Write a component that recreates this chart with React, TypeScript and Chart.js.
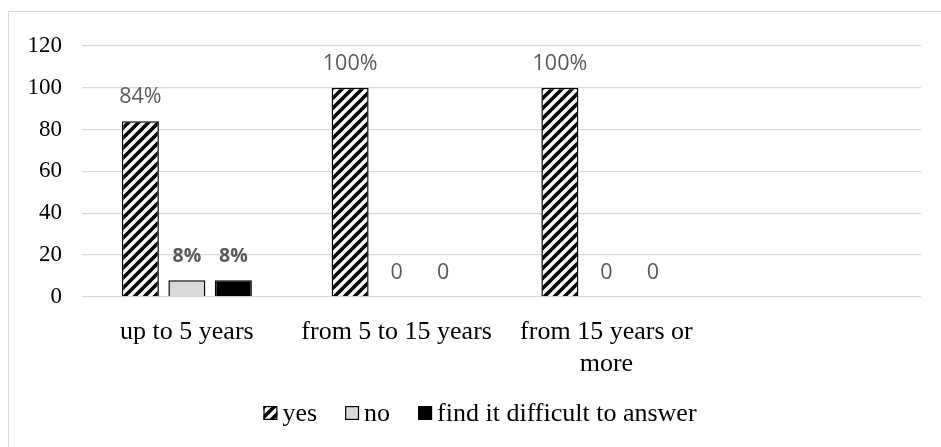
import React, { useEffect, useRef } from "react";
import { Chart, registerables } from "chart.js";

Chart.register(...registerables);

// Categories along the x axis (the last slot is left empty on purpose)
const categories: (string | string[])[] = [
  "up to 5 years",
  "from 5 to 15 years",
  ["from 15 years or", "more"],
  "",
];

// Series values, in percent
const yesValues = [84, 100, 100];
const noValues = [8, 0, 0];
const difficultValues = [8, 0, 0];

const seriesNames = ["yes", "no", "find it difficult to answer"];

// Value axis
const yMin = 0;
const yMax = 120;
const yStep = 20;

const SERIF = "'Liberation Serif', 'Times New Roman', serif";
const SANS = "'Open Sans', 'Liberation Sans', sans-serif";

function makeHatch(): CanvasPattern | string {
  const size = 10;
  const c = document.createElement("canvas");
  c.width = size;
  c.height = size;
  const g = c.getContext("2d");
  if (!g) return "#000";
  g.fillStyle = "#ffffff";
  g.fillRect(0, 0, size, size);
  g.strokeStyle = "#000000";
  g.lineWidth = 3.6;
  g.lineCap = "square";
  g.beginPath();
  g.moveTo(-size, size * 2);
  g.lineTo(size * 2, -size);
  g.moveTo(-size, size);
  g.lineTo(size, -size);
  g.moveTo(0, size * 2);
  g.lineTo(size * 2, 0);
  g.stroke();
  const p = g.createPattern(c, "repeat");
  return p || "#000";
}

// Value labels above each bar
const valueLabels = {
  id: "valueLabels",
  afterDatasetsDraw(chart: any) {
    const ctx = chart.ctx as CanvasRenderingContext2D;
    ctx.save();
    ctx.textAlign = "center";
    ctx.textBaseline = "middle";
    ctx.fillStyle = "#595959";
    chart.data.datasets.forEach((ds: any, di: number) => {
      const meta = chart.getDatasetMeta(di);
      meta.data.forEach((bar: any, i: number) => {
        const v = ds.data[i];
        if (v === undefined || v === null) return;
        const text = v === 0 ? "0" : `${v}%`;
        const bold = di > 0 && v > 0;
        ctx.font = bold ? `bold 19.5px ${SANS}` : `21.5px ${SANS}`;
        ctx.fillText(text, bar.x, bar.y - 24);
      });
    });
    ctx.restore();
  },
};

// Legend row under the axis
const bottomLegend = {
  id: "bottomLegend",
  afterDraw(chart: any) {
    const ctx = chart.ctx as CanvasRenderingContext2D;
    const box = 14;
    const gapText = 5;
    const gapItem = 28;
    const cy = 401;
    ctx.save();
    ctx.font = `26px ${SERIF}`;
    ctx.textBaseline = "middle";
    ctx.textAlign = "left";
    const items = chart.data.datasets.map((ds: any) => ({
      label: ds.label as string,
      fill: ds.backgroundColor,
      w: ctx.measureText(ds.label).width,
    }));
    let total = 0;
    items.forEach((it: any, i: number) => {
      total += box + gapText + it.w + (i < items.length - 1 ? gapItem : 0);
    });
    let x = chart.width / 2 + 2 - total / 2;
    items.forEach((it: any) => {
      ctx.fillStyle = it.fill;
      ctx.fillRect(x, cy - box / 2, box, box);
      ctx.strokeStyle = "#000";
      ctx.lineWidth = 1.2;
      ctx.strokeRect(x + 0.6, cy - box / 2 + 0.6, box - 1.2, box - 1.2);
      ctx.fillStyle = "#000";
      ctx.fillText(it.label, x + box + gapText, cy + 1);
      x += box + gapText + it.w + gapItem;
    });
    ctx.restore();
  },
};

export default function App() {
  const canvasRef = useRef<HTMLCanvasElement | null>(null);

  useEffect(() => {
    const canvas = canvasRef.current;
    if (!canvas) return;
    const hatch = makeHatch();

    const chart = new Chart(canvas, {
      type: "bar",
      data: {
        labels: categories as any,
        datasets: [
          {
            label: seriesNames[0],
            data: yesValues,
            backgroundColor: hatch as any,
            borderColor: "#000",
            borderWidth: 1.5,
          },
          {
            label: seriesNames[1],
            data: noValues,
            backgroundColor: "#d9d9d9",
            borderColor: "#000",
            borderWidth: 1.5,
          },
          {
            label: seriesNames[2],
            data: difficultValues,
            backgroundColor: "#000000",
            borderColor: "#000",
            borderWidth: 1.5,
          },
        ],
      },
      options: {
        responsive: false,
        animation: false,
        events: [],
        layout: { padding: { top: 29, right: 26, left: 0, bottom: 0 } },
        datasets: {
          bar: { categoryPercentage: 0.665, barPercentage: 0.796 },
        },
        plugins: {
          legend: { display: false },
          tooltip: { enabled: false },
          title: { display: false },
        },
        scales: {
          x: {
            grid: { display: false, drawTicks: false },
            border: { display: false },
            ticks: {
              autoSkip: false,
              maxRotation: 0,
              minRotation: 0,
              padding: 19,
              color: "#000",
              font: { family: SERIF, size: 26, lineHeight: 1.23 },
            },
            afterFit(s: any) {
              s.height = 155;
            },
          },
          y: {
            min: yMin,
            max: yMax,
            grid: { color: "#d9d9d9", lineWidth: 1.3, drawTicks: false },
            border: { display: false },
            ticks: {
              stepSize: yStep,
              padding: 20,
              color: "#000",
              font: { family: SERIF, size: 23 },
            },
            afterFit(s: any) {
              s.width = 73;
            },
          },
        },
      },
      plugins: [valueLabels, bottomLegend],
    });

    return () => chart.destroy();
  }, []);

  return (
    <div
      style={{
        position: "fixed",
        left: 8,
        top: 11,
        width: 940,
        height: 442,
        border: "1px solid #d9d9d9",
        background: "#fff",
        boxSizing: "border-box",
      }}
    >
      <canvas ref={canvasRef} width={938} height={440} style={{ display: "block" }} />
    </div>
  );
}
